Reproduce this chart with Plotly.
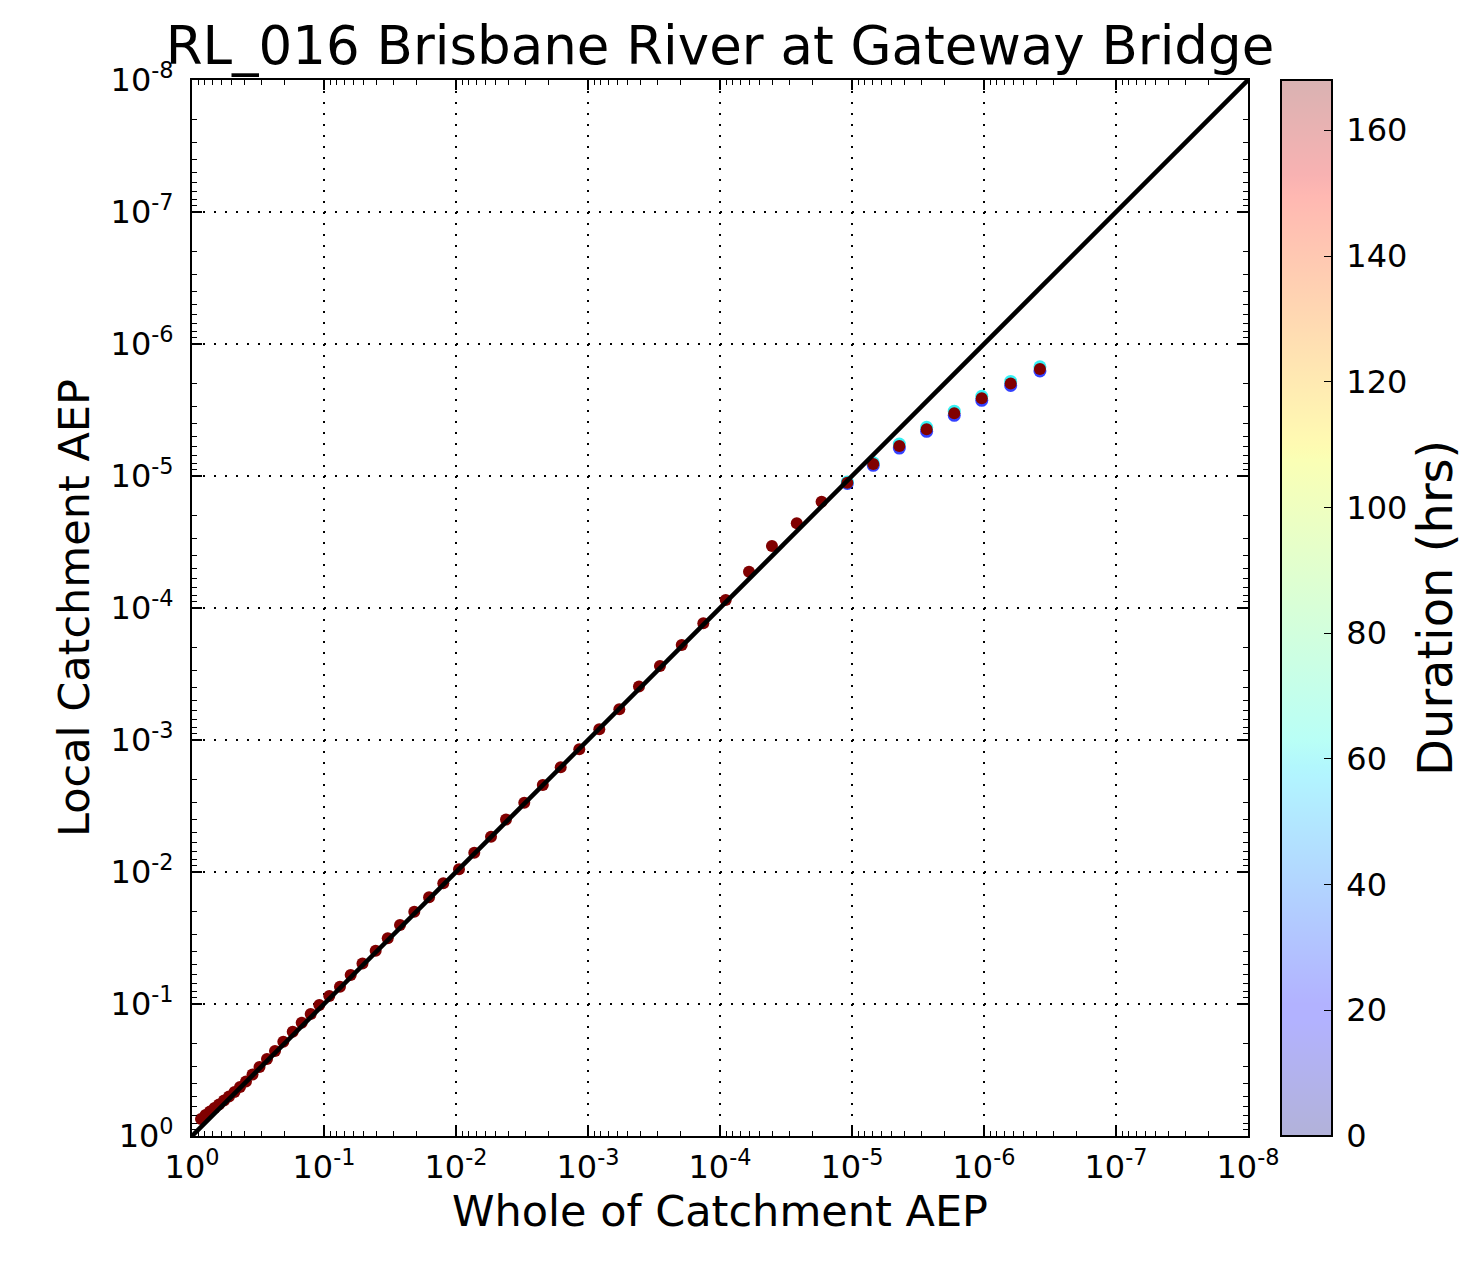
import plotly.graph_objects as go

# ---------------- data ----------------
# Whole-of-catchment AEP vs local catchment AEP (longest duration, plotted on top)
whole_aep = [3.77e-7, 6.28e-7, 1.04e-6, 1.68e-6, 2.72e-6, 4.38e-6, 6.90e-6, 1.085e-5,
             1.70e-5, 2.62e-5, 4.04e-5, 6.03e-5, 9.05e-5, 1.338e-4, 1.95e-4, 2.85e-4,
             4.11e-4, 5.79e-4, 8.21e-4, 1.164e-3, 1.61e-3, 2.20e-3, 3.04e-3, 4.18e-3,
             5.43e-3, 7.27e-3, 9.49e-3, 0.01248, 0.0160, 0.0207, 0.02655, 0.0329,
             0.0406, 0.0511, 0.0628, 0.0757, 0.0912, 0.1085, 0.1261, 0.1476,
             0.1726, 0.2034, 0.2350, 0.2703, 0.3081, 0.3480, 0.3899, 0.4329,
             0.4764, 0.5245, 0.5722, 0.6244, 0.6754, 0.7305, 0.7901, 0.8548]
local_aep_168h = [1.547e-6, 1.99e-6, 2.58e-6, 3.35e-6, 4.43e-6, 5.93e-6, 8.11e-6, 1.124e-5,
                  1.57e-5, 2.28e-5, 3.39e-5, 5.31e-5, 8.70e-5, 1.306e-4, 1.91e-4, 2.75e-4,
                  3.93e-4, 5.85e-4, 8.30e-4, 1.176e-3, 1.61e-3, 2.19e-3, 2.99e-3, 4.00e-3,
                  5.40e-3, 7.14e-3, 9.54e-3, 0.01218, 0.01554, 0.0200, 0.0252, 0.0318,
                  0.0395, 0.0493, 0.0603, 0.0739, 0.0870, 0.1018, 0.1191, 0.1386,
                  0.1621, 0.1931, 0.2270, 0.2610, 0.3001, 0.3420, 0.3865, 0.4254,
                  0.4642, 0.5022, 0.5382, 0.5772, 0.6136, 0.6523, 0.6933, 0.7431]

# shorter durations, visible only at the rare end
whole_aep_tail = [3.77e-7, 6.28e-7, 1.04e-6, 1.68e-6, 2.72e-6, 4.38e-6, 6.90e-6, 1.085e-5]
local_aep_24h = [1.60e-6, 2.06e-6, 2.67e-6, 3.47e-6, 4.59e-6, 6.14e-6, 8.30e-6, 1.14e-5]
local_aep_60h = [1.49e-6, 1.92e-6, 2.49e-6, 3.23e-6, 4.28e-6, 5.72e-6, 7.95e-6, 1.11e-5]

durations = [24, 60, 168]
duration_min, duration_max = 0, 168

tick_vals = [1, 1e-1, 1e-2, 1e-3, 1e-4, 1e-5, 1e-6, 1e-7, 1e-8]
tick_text = ["10<sup>0</sup>", "10<sup>-1</sup>", "10<sup>-2</sup>", "10<sup>-3</sup>",
             "10<sup>-4</sup>", "10<sup>-5</sup>", "10<sup>-6</sup>", "10<sup>-7</sup>",
             "10<sup>-8</sup>"]
cbar_ticks = [0, 20, 40, 60, 80, 100, 120, 140, 160]

# ---------------- styling helpers ----------------
FONT = "DejaVu Sans"
ALPHA = 0.3

# matplotlib 'jet' segment data
jet_r = [(0, 0), (0.35, 0), (0.66, 1), (0.89, 1), (1, 0.5)]
jet_g = [(0, 0), (0.125, 0), (0.375, 1), (0.64, 1), (0.91, 0), (1, 0)]
jet_b = [(0, 0.5), (0.11, 1), (0.34, 1), (0.65, 0), (1, 0)]


def interp(seg, t):
    for (x0, y0), (x1, y1) in zip(seg[:-1], seg[1:]):
        if x0 <= t <= x1:
            return y0 + (y1 - y0) * (t - x0) / (x1 - x0) if x1 > x0 else y1
    return seg[-1][1]


def jet(t, alpha=1.0):
    r, g, b = interp(jet_r, t), interp(jet_g, t), interp(jet_b, t)
    r, g, b = [alpha * c + (1 - alpha) * 1.0 for c in (r, g, b)]
    return "rgb(%d,%d,%d)" % (round(r * 255), round(g * 255), round(b * 255))


stops = sorted(set([s for seg in (jet_r, jet_g, jet_b) for s, _ in seg]))
colorscale = [[s, jet(s, ALPHA)] for s in stops]


def dur_color(d, a=1.0):
    t = (d - duration_min) / (duration_max - duration_min)
    rgb = jet(t)
    return rgb.replace("rgb", "rgba").replace(")", ",%.2f)" % a)


# page body has an 8px margin: size the figure so the plot lands where the reference has it
PAGE_OFF = 8
W, H = 1468 - PAGE_OFF, 1261 - PAGE_OFF
L, T = 192 - PAGE_OFF, 80 - PAGE_OFF
R = W - (1248 - PAGE_OFF)
B = H - (1136 - PAGE_OFF)
PLOT_W = 1248 - 192

fig = go.Figure()

MS = 13
fig.add_trace(go.Scatter(x=whole_aep_tail, y=local_aep_24h, mode="markers",
                         marker=dict(size=MS, color=dur_color(durations[0], 0.8), line=dict(width=0)),
                         showlegend=False))
fig.add_trace(go.Scatter(x=whole_aep_tail, y=local_aep_60h, mode="markers",
                         marker=dict(size=MS, color=dur_color(durations[1], 0.8), line=dict(width=0)),
                         showlegend=False))
fig.add_trace(go.Scatter(x=whole_aep, y=local_aep_168h, mode="markers",
                         marker=dict(size=MS - 1, color="#800000", line=dict(width=0)),
                         showlegend=False))

# 1:1 line
fig.add_trace(go.Scatter(x=[tick_vals[0], tick_vals[-1]], y=[tick_vals[0], tick_vals[-1]],
                         mode="lines", line=dict(color="black", width=4.5), showlegend=False))

# colourbar carrier
fig.add_trace(go.Scatter(
    x=[None], y=[None], mode="markers", showlegend=False, hoverinfo="skip",
    marker=dict(color=[duration_min], cmin=duration_min, cmax=duration_max,
                colorscale=colorscale, showscale=True,
                colorbar=dict(
                    x=(1281 - 192) / PLOT_W, xanchor="left", xpad=0,
                    y=0.5, yanchor="middle", len=1, lenmode="fraction", ypad=0,
                    thickness=51, outlinewidth=2, outlinecolor="black",
                    tickvals=cbar_ticks, ticks="inside", ticklen=9, tickwidth=1,
                    tickcolor="black",
                    ticktext=["\u2009" + str(v) for v in cbar_ticks],
                    tickfont=dict(family=FONT, size=32, color="black"),
                ))))

# colourbar title as rotated text (keeps the colourbar from widening the right margin)
fig.add_annotation(text="Duration (hrs)", xref="paper", yref="paper",
                   x=(1435 - 192) / PLOT_W, y=0.5, xanchor="center", yanchor="middle",
                   textangle=-90, showarrow=False,
                   font=dict(family=FONT, size=48, color="black"))

minor_vals = [m * 10.0 ** (-k) for k in range(1, 9) for m in range(2, 10)]

axis_common = dict(
    type="log", range=[0, -8], tickmode="array", tickvals=tick_vals, ticktext=tick_text,
    ticks="inside", ticklen=10, tickwidth=1.5, tickcolor="black",
    showline=True, linecolor="black", linewidth=2, mirror="allticks",
    showgrid=True, gridcolor="black", gridwidth=1.5, griddash="2px,9px",
    zeroline=False,
    tickfont=dict(family=FONT, size=32, color="black"),
    minor=dict(tickmode="array", tickvals=minor_vals, ticks="inside", ticklen=5,
               tickwidth=1, tickcolor="black", showgrid=False),
)

fig.update_layout(
    width=W, height=H, autosize=False,
    margin=dict(l=L, r=R, t=T, b=B),
    paper_bgcolor="white", plot_bgcolor="white",
    font=dict(family=FONT, color="black"),
    title=dict(text="RL_016 Brisbane River at Gateway Bridge",
               x=(720 - PAGE_OFF) / W, xanchor="center",
               y=1 - (45 - PAGE_OFF) / H, yanchor="middle", yref="container",
               font=dict(family=FONT, size=53, color="black")),
    xaxis=dict(**axis_common, ticklabelstandoff=2,
               title=dict(text="Whole of Catchment AEP", standoff=10,
                          font=dict(family=FONT, size=43, color="black"))),
    yaxis=dict(**axis_common, ticklabelstandoff=10,
               title=dict(text="Local Catchment AEP", standoff=8,
                          font=dict(family=FONT, size=43, color="black"))),
)

fig.write_html("out.html")
